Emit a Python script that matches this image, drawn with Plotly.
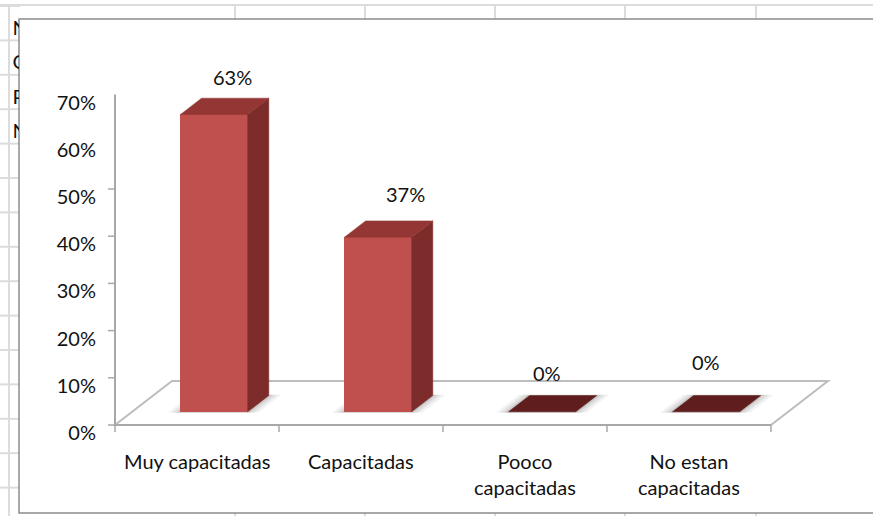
import plotly.graph_objects as go

# ---------------- data ----------------
CATEGORIES = ["Muy capacitadas", "Capacitadas", "Pooco<br>capacitadas", "No estan<br>capacitadas"]
VALUES = [63, 37, 0, 0]
LABELS = ["63%", "37%", "0%", "0%"]
Y_TICKS = [0, 10, 20, 30, 40, 50, 60, 70]
Y_TICK_TEXT = ["0%", "10%", "20%", "30%", "40%", "50%", "60%", "70%"]
SHEET_TEXT = ["N", "C", "P", "N"]          # clipped spreadsheet cell text on the left

# ---------------- style / geometry ----------------
W, H = 873, 516
FONT = "Lato"
FS = 20
X_RANGE = [-1.2012, 4.122]      # category units
Y_RANGE = [-19.28, 90.04]       # percent
DX, DY = 0.3476, 9.32           # 3-D depth offset (full floor depth)
F0, F1 = 0.30, 0.67             # bar front / back depth fractions
BAR_W = 0.41
FRONT = "#c0504d"
SIDE = "#7c2c2a"
TOP = "#933634"
ZERO_TOP = "#5f1e1d"
GRID = "#dcdcdc"
AXIS = "#a8a8a8"
LABEL_NUDGE = [(8, 21), (17, 27), (-6, 23), (-11, 34)]   # px (x, y) for data labels


def px_x(p):
    return p / W


def px_y(p):
    return 1 - p / H


fig = go.Figure()

# front faces: real bars
n = len(VALUES)
fig.add_trace(go.Bar(
    x=[i + F0 * DX for i in range(n)], y=VALUES, base=[F0 * DY] * n, width=BAR_W,
    marker=dict(color=FRONT, line=dict(width=0)), hoverinfo="skip", showlegend=False,
))

# side + top faces computed from the values
side_x, side_y, top_x, top_y, ztop_x, ztop_y = [], [], [], [], [], []
for i, v in enumerate(VALUES):
    xl, xr = i - BAR_W / 2, i + BAR_W / 2
    if v > 0:
        side_x += [xr + F0 * DX, xr + F1 * DX, xr + F1 * DX, xr + F0 * DX, xr + F0 * DX, None]
        side_y += [F0 * DY, F1 * DY, v + F1 * DY, v + F0 * DY, F0 * DY, None]
        tx, ty = top_x, top_y
    else:
        tx, ty = ztop_x, ztop_y
    tx += [xl + F0 * DX, xr + F0 * DX, xr + F1 * DX, xl + F1 * DX, xl + F0 * DX, None]
    ty += [v + F0 * DY, v + F0 * DY, v + F1 * DY, v + F1 * DY, v + F0 * DY, None]

for xs, ys, col in [(side_x, side_y, SIDE), (top_x, top_y, TOP), (ztop_x, ztop_y, ZERO_TOP)]:
    fig.add_trace(go.Scatter(x=xs, y=ys, mode="lines", fill="toself", fillcolor=col,
                             line=dict(width=0.5, color=col), hoverinfo="skip", showlegend=False))

# clipped spreadsheet text (tiny subplot on the left)
row_bottoms = [40 + 34.4 * k for k in range(len(SHEET_TEXT))]
fig.add_trace(go.Scatter(
    x=[12.5] * len(SHEET_TEXT), y=[b - 10 for b in row_bottoms], text=SHEET_TEXT,
    mode="text", textposition="middle right", textfont=dict(family=FONT, size=FS, color="#111"),
    xaxis="x2", yaxis="y2", cliponaxis=True, hoverinfo="skip", showlegend=False,
))

shapes = []
# spreadsheet grid behind the chart
shapes.append(dict(type="line", xref="paper", yref="paper", x0=0, x1=1, y0=px_y(5), y1=px_y(5),
                   line=dict(color=GRID, width=2), layer="below"))
shapes.append(dict(type="line", xref="paper", yref="paper", x0=px_x(9), x1=px_x(9), y0=0, y1=px_y(5),
                   line=dict(color=GRID, width=2), layer="below"))
for k in range(15):
    yy = 6 + 34.4 * k
    shapes.append(dict(type="line", xref="paper", yref="paper", x0=0, x1=px_x(20), y0=px_y(yy), y1=px_y(yy),
                       line=dict(color=GRID, width=2), layer="below"))
for xx in [235, 365, 495, 625, 756]:
    shapes.append(dict(type="line", xref="paper", yref="paper", x0=px_x(xx), x1=px_x(xx), y0=0, y1=px_y(5),
                       line=dict(color=GRID, width=2), layer="below"))
# chart frame
shapes.append(dict(type="rect", xref="paper", yref="paper", x0=px_x(19), x1=px_x(890), y0=px_y(513), y1=px_y(19),
                   line=dict(color="#8c8c8c", width=1.5), fillcolor="white", layer="below"))

# floor
x_lo, x_hi = -0.5, n - 0.5
shapes.append(dict(type="path", xref="x", yref="y",
                   path=f"M {x_lo},0 L {x_hi},0 L {x_hi + DX},{DY} L {x_lo + DX},{DY} Z",
                   line=dict(color="#bdbdbd", width=2), fillcolor="white", layer="below"))
shapes.append(dict(type="line", xref="x", yref="y", x0=x_lo, x1=x_hi, y0=0, y1=0,
                   line=dict(color=AXIS, width=2), layer="below"))
# soft shadows under bars
for i in range(n):
    xl, xr = i - BAR_W / 2, i + BAR_W / 2
    for grow, alpha in [(0.07, 0.05), (0.045, 0.07), (0.02, 0.09)]:
        a0, a1 = F0 - 0.02, F1 + 0.02
        shapes.append(dict(type="path", xref="x", yref="y",
                           path=(f"M {xl - grow + a0 * DX},{a0 * DY} L {xr + grow + a0 * DX},{a0 * DY} "
                                 f"L {xr + grow + a1 * DX},{a1 * DY} L {xl - grow + a1 * DX},{a1 * DY} Z"),
                           line=dict(width=0), fillcolor=f"rgba(0,0,0,{alpha})", layer="below"))

# value axis line and ticks
shapes.append(dict(type="line", xref="x", yref="y", x0=x_lo, x1=x_lo, y0=0, y1=max(Y_TICKS),
                   line=dict(color=AXIS, width=2), layer="below"))
for t in Y_TICKS:
    if t <= 50:
        shapes.append(dict(type="line", xref="x", yref="y", x0=x_lo - 0.043, x1=x_lo, y0=t, y1=t,
                           line=dict(color=AXIS, width=1.5), layer="below"))
# category ticks
for k in range(n + 1):
    shapes.append(dict(type="line", xref="x", yref="y", x0=x_lo + k, x1=x_lo + k, y0=0, y1=-1.5,
                       line=dict(color=AXIS, width=1.5), layer="below"))

annotations = []
for i, (v, lab) in enumerate(zip(VALUES, LABELS)):
    nx, ny = LABEL_NUDGE[i]
    annotations.append(dict(x=i + DX * (F0 + F1) / 2, y=v + F1 * DY, text=lab, showarrow=False,
                            xshift=nx, yshift=ny, xanchor="center", yanchor="middle",
                            font=dict(family=FONT, size=FS, color="#111")))
for i, c in enumerate(CATEGORIES):
    annotations.append(dict(x=i, y=0, text=c, showarrow=False, xanchor="center", yanchor="top",
                            yshift=-22, font=dict(family=FONT, size=FS, color="#111")))

fig.update_layout(
    width=W, height=H, margin=dict(l=0, r=0, t=0, b=0),
    paper_bgcolor="white", plot_bgcolor="rgba(0,0,0,0)",
    shapes=shapes, annotations=annotations, showlegend=False, bargap=0,
    xaxis=dict(range=X_RANGE, domain=[0, 1], visible=False, fixedrange=True),
    yaxis=dict(range=Y_RANGE, domain=[0, 1], anchor="free", position=px_x(115), side="left",
               tickvals=Y_TICKS, ticktext=Y_TICK_TEXT, ticks="", showline=False, showgrid=False,
               zeroline=False, ticklabelshift=8, ticklabelstandoff=19,
               tickfont=dict(family=FONT, size=FS, color="#111"), fixedrange=True),
    xaxis2=dict(range=[8, 19], domain=[px_x(8), px_x(19)], visible=False, anchor="y2"),
    yaxis2=dict(range=[H, 0], domain=[0, 1], visible=False, anchor="x2"),
)

fig.write_html("out.html")
